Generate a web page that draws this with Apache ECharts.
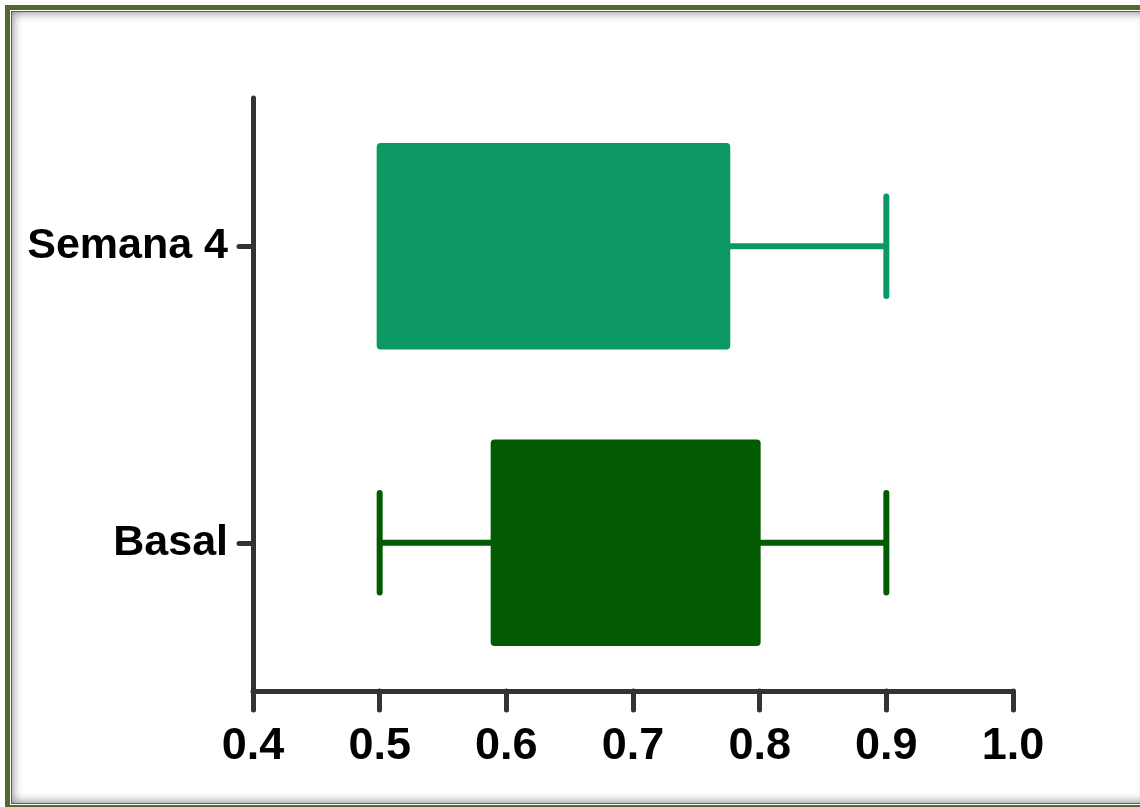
<!DOCTYPE html>
<html>
<head>
<meta charset="utf-8">
<script src="https://cdn.jsdelivr.net/npm/echarts@6/dist/echarts.min.js"></script>
<style>
html,body{margin:0;padding:0;width:1140px;height:807px;overflow:hidden;background:#fff;}
#frame{position:absolute;left:5px;top:5px;width:1150px;height:805px;box-sizing:border-box;border:5px solid #4F6B2B;padding:1px;background:#fff;}
#inner{width:100%;height:100%;box-sizing:border-box;border:1px solid #4F6B2B;box-shadow:inset 0 0 10px 1px rgba(0,0,0,0.45);background:#fff;}
#chart{position:absolute;left:0;top:0;width:1140px;height:807px;}
</style>
</head>
<body>
<div id="frame"><div id="inner"></div></div>
<div id="chart"></div>
<script>
const categories = ['Basal', 'Semana 4'];
const minValues = [0.5, 0.5];
const q1Values = [0.59, 0.5];
const medianValues = [0.7, 0.6];
const q3Values = [0.80, 0.776];
const maxValues = [0.9, 0.9];
const boxColors = ['#025A02', '#0B9862'];
const xMin = 0.4, xMax = 1.0, xStep = 0.1;

const data = categories.map((c, i) => [i, minValues[i], q1Values[i], medianValues[i], q3Values[i], maxValues[i]]);

function renderItem(params, api) {
  const cat = api.value(0);
  const mn = api.value(1), q1 = api.value(2), md = api.value(3), q3 = api.value(4), mx = api.value(5);
  const band = api.size([0, 1])[1];
  const pMin = api.coord([mn, cat]);
  const pQ1 = api.coord([q1, cat]);
  const pMd = api.coord([md, cat]);
  const pQ3 = api.coord([q3, cat]);
  const pMax = api.coord([mx, cat]);
  const y = pQ1[1];
  const bh = band * 0.69;
  const ch = band * 0.335;
  const color = boxColors[params.dataIndex];
  const lineStyle = { stroke: color, lineWidth: 6, lineCap: 'round' };
  const children = [
    { type: 'line', shape: { x1: pQ3[0], y1: y, x2: pMax[0], y2: y }, style: Object.assign({}, lineStyle, {lineCap:'butt'}) },
    { type: 'line', shape: { x1: pMax[0], y1: y - ch / 2, x2: pMax[0], y2: y + ch / 2 }, style: lineStyle }
  ];
  if (mn < q1) {
    children.push({ type: 'line', shape: { x1: pMin[0], y1: y, x2: pQ1[0], y2: y }, style: Object.assign({}, lineStyle, {lineCap:'butt'}) });
    children.push({ type: 'line', shape: { x1: pMin[0], y1: y - ch / 2, x2: pMin[0], y2: y + ch / 2 }, style: lineStyle });
  }
  children.push({ type: 'rect', shape: { x: pQ1[0] - 2, y: y - bh / 2, width: pQ3[0] - pQ1[0] + 2, height: bh, r: 3 }, style: { fill: color, stroke: color, lineWidth: 2 } });
  children.push({ type: 'line', shape: { x1: pMd[0], y1: y - bh / 2, x2: pMd[0], y2: y + bh / 2 }, style: { stroke: color, lineWidth: 2 } });
  return { type: 'group', children: children };
}

const chart = echarts.init(document.getElementById('chart'), null, { renderer: 'canvas' });
const axisColor = '#333333';
chart.setOption({
  animation: false,
  backgroundColor: 'transparent',
  grid: { left: 253, right: 127, top: 98, bottom: 116, containLabel: false },
  xAxis: {
    type: 'value', min: xMin, max: xMax, interval: xStep,
    splitLine: { show: false },
    axisLine: { show: true, lineStyle: { color: axisColor, width: 5, cap: 'round' } },
    axisTick: { show: true, length: 19, lineStyle: { color: axisColor, width: 5, cap: 'round' } },
    axisLabel: { color: '#000', fontFamily: 'Liberation Sans, Arial, sans-serif', fontWeight: 'bold', fontSize: 45, lineHeight: 45, margin: 33,
      formatter: v => v.toFixed(1) }
  },
  yAxis: {
    type: 'category', data: categories,
    axisLine: { show: true, lineStyle: { color: axisColor, width: 5, cap: 'round' } },
    axisTick: { show: true, alignWithLabel: true, length: 14, lineStyle: { color: axisColor, width: 5, cap: 'round' } },
    axisLabel: { color: '#000', fontFamily: 'Liberation Sans, Arial, sans-serif', fontWeight: 'bold', fontSize: 43, margin: 25 },
    splitLine: { show: false }
  },
  series: [{
    type: 'custom',
    renderItem: renderItem,
    encode: { x: [1, 2, 3, 4, 5], y: 0 },
    data: data
  }]
});
</script>
</body>
</html>
